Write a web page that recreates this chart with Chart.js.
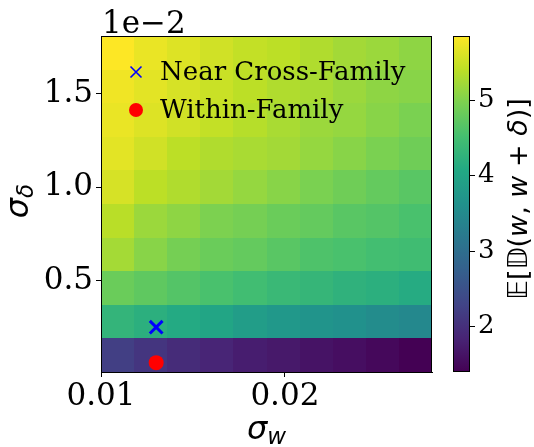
<!DOCTYPE html>
<html>
<head>
<meta charset="utf-8">
<script src="https://cdn.jsdelivr.net/npm/chart.js@4.4.0/dist/chart.umd.min.js"></script>
<style>
  html, body { margin: 0; padding: 0; background: #fff; }
  #wrap { position: relative; width: 534px; height: 447px; }
  #wrap canvas { position: absolute; left: 0; top: 0; }
</style>
</head>
<body>
<div id="wrap">
  <canvas id="main" width="534" height="447"></canvas>
  <canvas id="cbar" width="534" height="447"></canvas>
</div>
<script>
// cell edges: sigma_w along x, sigma_delta along y (y in units of 1e-2)
const wEdges = [0.0100, 0.0118, 0.0136, 0.0154, 0.0172, 0.0190, 0.0208, 0.0226, 0.0244, 0.0262, 0.0280];
const dEdges = [0.01, 0.19, 0.37, 0.55, 0.73, 0.91, 1.09, 1.27, 1.45, 1.63, 1.81];

// E[D(w, w+delta)], one row per sigma_delta bin, bottom row first
const row1 = [2.22, 2.08, 1.95, 1.86, 1.76, 1.70, 1.63, 1.57, 1.49, 1.40];
const row2 = [4.30, 4.20, 4.10, 4.02, 3.86, 3.76, 3.68, 3.62, 3.54, 3.46];
const row3 = [4.83, 4.74, 4.65, 4.56, 4.47, 4.38, 4.33, 4.25, 4.20, 4.12];
const row4 = [5.24, 5.05, 4.92, 4.83, 4.78, 4.69, 4.60, 4.56, 4.50, 4.46];
const row5 = [5.38, 5.18, 5.09, 4.97, 4.92, 4.83, 4.78, 4.69, 4.65, 4.56];
const row6 = [5.58, 5.40, 5.32, 5.23, 5.14, 5.05, 4.96, 4.87, 4.78, 4.69];
const row7 = [5.67, 5.54, 5.40, 5.32, 5.27, 5.23, 5.14, 5.05, 4.96, 4.87];
const row8 = [5.72, 5.63, 5.54, 5.45, 5.36, 5.27, 5.18, 5.14, 5.05, 4.96];
const row9 = [5.76, 5.67, 5.58, 5.49, 5.40, 5.32, 5.27, 5.18, 5.09, 5.05];
const row10 = [5.85, 5.72, 5.63, 5.54, 5.45, 5.40, 5.32, 5.23, 5.18, 5.09];
const distRows = [row1, row2, row3, row4, row5, row6, row7, row8, row9, row10];

const nearCross = [{ x: 0.013, y: 0.25 }];
const withinFamily = [{ x: 0.013, y: 0.06 }];

const xTicks = [0.01, 0.02];
const yTicks = [0.5, 1.0, 1.5];
const cbarTicks = [2, 3, 4, 5];
const cbarMin = 1.40;
const cbarMax = 5.85;

const viridis = ['#440154', '#482475', '#414487', '#355f8d', '#2a788e', '#21918c',
                 '#22a884', '#44bf70', '#7ad151', '#bddf26', '#fde725'];

function hexRgb(h) {
    return [parseInt(h.slice(1, 3), 16), parseInt(h.slice(3, 5), 16), parseInt(h.slice(5, 7), 16)];
}
const viridisRgb = viridis.map(hexRgb);

function colorFor(v) {
    let t = (v - cbarMin) / (cbarMax - cbarMin);
    t = Math.max(0, Math.min(1, t));
    const p = t * (viridisRgb.length - 1);
    const i = Math.min(Math.floor(p), viridisRgb.length - 2);
    const f = p - i;
    const a = viridisRgb[i], b = viridisRgb[i + 1];
    const c = a.map((x, k) => Math.round(x + (b[k] - x) * f));
    return `rgb(${c[0]},${c[1]},${c[2]})`;
}

function drawRuns(ctx, runs, x, y, align) {
    let total = 0;
    runs.forEach(r => { ctx.font = r.font; r.w = ctx.measureText(r.t).width; total += r.w; });
    let cx = align === 'center' ? x - total / 2 : x;
    ctx.textAlign = 'left';
    ctx.textBaseline = 'alphabetic';
    runs.forEach(r => { ctx.font = r.font; ctx.fillText(r.t, cx, y + (r.dy || 0)); cx += r.w; });
}

const SERIF = "'DejaVu Serif', serif";
const SANS = "'DejaVu Sans', sans-serif";

const heatmapPlugin = {
    id: 'heatmap',
    beforeDatasetsDraw(chart) {
        const { ctx, chartArea, scales: { x, y } } = chart;
        ctx.save();
        distRows.forEach((row, r) => {
            const yTop = Math.round(y.getPixelForValue(dEdges[r + 1]));
            const yBot = Math.round(y.getPixelForValue(dEdges[r]));
            row.forEach((v, c) => {
                const xL = Math.round(x.getPixelForValue(wEdges[c]));
                const xR = Math.round(x.getPixelForValue(wEdges[c + 1]));
                ctx.fillStyle = colorFor(v);
                ctx.fillRect(xL, yTop, xR - xL, yBot - yTop);
            });
        });
        ctx.strokeStyle = '#000';
        ctx.lineWidth = 1;
        ctx.strokeRect(chartArea.left + 0.5, chartArea.top + 0.5,
                       chartArea.right - chartArea.left - 1, chartArea.bottom - chartArea.top);
        ctx.restore();
    },
    afterDraw(chart) {
        const { ctx, chartArea } = chart;
        ctx.save();

        // legend inside the axes
        const lx = chartArea.left + 35;
        const ly1 = chartArea.top + 36;
        const ly2 = chartArea.top + 74;
        const d = 5.5;
        ctx.strokeStyle = '#0000ff';
        ctx.lineWidth = 1.6;
        ctx.beginPath();
        ctx.moveTo(lx - d, ly1 - d); ctx.lineTo(lx + d, ly1 + d);
        ctx.moveTo(lx - d, ly1 + d); ctx.lineTo(lx + d, ly1 - d);
        ctx.stroke();
        ctx.fillStyle = '#ff0000';
        ctx.beginPath();
        ctx.arc(lx, ly2, 7, 0, Math.PI * 2);
        ctx.fill();
        ctx.fillStyle = '#000';
        ctx.font = `26px ${SERIF}`;
        ctx.textAlign = 'left';
        ctx.textBaseline = 'middle';
        ctx.fillText('Near Cross-Family', lx + 24, ly1 + 1);
        ctx.fillText('Within-Family', lx + 24, ly2 + 1);

        // offset text of the y axis
        ctx.textBaseline = 'alphabetic';
        ctx.font = `31px ${SERIF}`;
        ctx.fillText('1e\u22122', chartArea.left + 1, 33);

        // x title: sigma_w
        drawRuns(ctx, [
            { t: '\u03c3', font: `italic 32px ${SANS}` },
            { t: 'w', font: `italic 23px ${SANS}`, dy: 5 }
        ], (chartArea.left + chartArea.right) / 2, 439, 'center');

        // y title: sigma_delta
        ctx.translate(28, (chartArea.top + chartArea.bottom) / 2 - 3);
        ctx.rotate(-Math.PI / 2);
        drawRuns(ctx, [
            { t: '\u03c3', font: `italic 32px ${SANS}` },
            { t: '\u03b4', font: `italic 23px ${SANS}`, dy: 5 }
        ], 0, 0, 'center');
        ctx.restore();
    }
};

new Chart(document.getElementById('main'), {
    type: 'scatter',
    data: {
        datasets: [
            {
                label: 'Near Cross-Family',
                data: nearCross,
                pointStyle: 'crossRot',
                radius: 9,
                borderWidth: 3,
                borderColor: '#0000ff',
                backgroundColor: '#0000ff'
            },
            {
                label: 'Within-Family',
                data: withinFamily,
                pointStyle: 'circle',
                radius: 7.5,
                borderWidth: 0,
                backgroundColor: '#ff0000',
                borderColor: '#ff0000'
            }
        ]
    },
    options: {
        responsive: false,
        animation: false,
        devicePixelRatio: 1,
        layout: { padding: { top: 36, right: 102, left: 0, bottom: 0 } },
        plugins: { legend: { display: false }, tooltip: { enabled: false } },
        scales: {
            x: {
                type: 'linear',
                min: wEdges[0],
                max: wEdges[wEdges.length - 1],
                afterBuildTicks: s => { s.ticks = xTicks.map(v => ({ value: v })); },
                afterFit: s => { s.height = 75; },
                grid: { drawOnChartArea: false, tickLength: 5, color: '#000', lineWidth: 1 },
                border: { display: true, color: '#000', width: 1 },
                ticks: {
                    color: '#000',
                    font: { family: SERIF, size: 31 },
                    padding: 1,
                    maxRotation: 0,
                    callback: v => v.toFixed(2)
                }
            },
            y: {
                type: 'linear',
                min: dEdges[0],
                max: dEdges[dEdges.length - 1],
                afterBuildTicks: s => { s.ticks = yTicks.map(v => ({ value: v })); },
                afterFit: s => { s.width = 101; },
                grid: { drawOnChartArea: false, tickLength: 5, color: '#000', lineWidth: 1 },
                border: { display: true, color: '#000', width: 1 },
                ticks: {
                    color: '#000',
                    font: { family: SERIF, size: 31 },
                    padding: 3,
                    callback: v => v.toFixed(1)
                }
            }
        }
    },
    plugins: [heatmapPlugin]
});

const cbarPlugin = {
    id: 'cbarFrame',
    afterDatasetsDraw(chart) {
        const { ctx, chartArea } = chart;
        ctx.save();
        ctx.strokeStyle = '#000';
        ctx.lineWidth = 1;
        ctx.strokeRect(chartArea.left + 0.5, chartArea.top + 0.5,
                       chartArea.right - chartArea.left - 1, chartArea.bottom - chartArea.top - 1);
        ctx.fillStyle = '#000';
        ctx.translate(527, (chartArea.top + chartArea.bottom) / 2 - 5);
        ctx.rotate(-Math.PI / 2);
        const n = `27px ${SANS}`, it = `italic 27px ${SANS}`;
        drawRuns(ctx, [
            { t: '\u{1D53C}[\u{1D53B}(', font: n },
            { t: 'w', font: it },
            { t: ', ', font: n },
            { t: 'w', font: it },
            { t: ' + ', font: n },
            { t: '\u03b4', font: it },
            { t: ')]', font: n }
        ], 0, 0, 'center');
        ctx.restore();
    }
};

new Chart(document.getElementById('cbar'), {
    type: 'bar',
    data: {
        labels: ['cbar'],
        datasets: [{
            data: [[cbarMin, cbarMax]],
            barPercentage: 1,
            categoryPercentage: 1,
            borderWidth: 0,
            backgroundColor: c => {
                const chart = c.chart;
                if (!chart.chartArea) return '#21918c';
                const y = chart.scales.y;
                const g = chart.ctx.createLinearGradient(0, y.getPixelForValue(cbarMin), 0, y.getPixelForValue(cbarMax));
                viridis.forEach((col, i) => g.addColorStop(i / (viridis.length - 1), col));
                return g;
            }
        }]
    },
    options: {
        responsive: false,
        animation: false,
        devicePixelRatio: 1,
        layout: { padding: { top: 36, left: 453, bottom: 75, right: 0 } },
        plugins: { legend: { display: false }, tooltip: { enabled: false } },
        scales: {
            x: { display: false },
            y: {
                position: 'right',
                min: cbarMin,
                max: cbarMax,
                afterBuildTicks: s => { s.ticks = cbarTicks.map(v => ({ value: v })); },
                afterFit: s => { s.width = 64; },
                grid: { drawOnChartArea: false, tickLength: 5, color: '#000', lineWidth: 1 },
                border: { display: false },
                ticks: {
                    color: '#000',
                    font: { family: SERIF, size: 26 },
                    padding: 3
                }
            }
        }
    },
    plugins: [cbarPlugin]
});
</script>
</body>
</html>
